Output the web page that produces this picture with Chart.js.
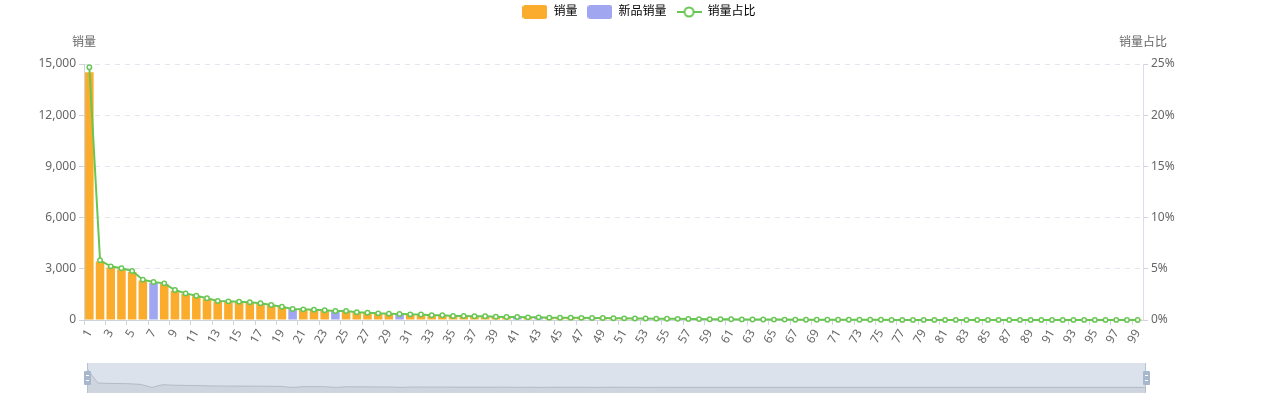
<!DOCTYPE html>
<html>
<head>
<meta charset="utf-8">
<script src="https://cdn.jsdelivr.net/npm/chart.js@4.4.1/dist/chart.umd.min.js"></script>
<style>
  html, body { margin: 0; padding: 0; background: #fff; }
  #wrap { position: relative; width: 1278px; height: 400px; overflow: hidden; }
  #main { position: absolute; left: 0; top: 0; }
  #zoom { position: absolute; left: 87px; top: 363px; width: 1059px; height: 30px; background: #dce2eb; }
  #zoomCanvas { position: absolute; left: 0; top: 0; }
  .edge { position: absolute; top: 0; width: 1px; height: 30px; background: #b7c2d2; }
  .handle { position: absolute; top: 8px; width: 7px; height: 14px; background: #a7b7cc; border-radius: 1px; }
  .handle i { position: absolute; left: 2px; width: 3px; height: 1px; background: #fff; }
</style>
</head>
<body>
<div id="wrap">
  <canvas id="main" width="1278" height="400"></canvas>
  <div id="zoom">
    <canvas id="zoomCanvas" width="1059" height="30"></canvas>
    <div class="edge" style="left:0"></div>
    <div class="edge" style="right:0"></div>
    <div class="handle" style="left:-3px"><i style="top:4px"></i><i style="top:9px"></i></div>
    <div class="handle" style="right:-4px"><i style="top:4px"></i><i style="top:9px"></i></div>
  </div>
</div>
<script>
// ---------- data ----------
const categories = ['1','2','3','4','5','6','7','8','9','10','11','12','13','14','15','16','17','18','19','20',
  '21','22','23','24','25','26','27','28','29','30','31','32','33','34','35','36','37','38','39','40',
  '41','42','43','44','45','46','47','48','49','50','51','52','53','54','55','56','57','58','59','60',
  '61','62','63','64','65','66','67','68','69','70','71','72','73','74','75','76','77','78','79','80',
  '81','82','83','84','85','86','87','88','89','90','91','92','93','94','95','96','97','98','99'];

// sales per rank (销量 / 新品销量 share the same ranking)
const sales = [14510,3428,3083,2968,2814,2316,2182,2107,1723,1530,1395,1245,1091,1072,1051,1016,958,861,764,632,614,592,
  557,517,517,441,420,382,362,345,325,320,270,270,230,230,210,210,190,172,170,152,150,134,132,
  128,122,118,110,102,95,88,80,74,68,62,57,52,47,43,39,35,31,28,25,22,20,18,16,14,12,11,10,
  9,9,8,8,8,7,7,7,6,6,6,5,5,5,5,4,4,4,4,3,3,3,3,2,2,2];

// ranks that are new products (drawn as 新品销量)
const newProductRanks = [7,20,24,30,41,43,48,53];

// 销量占比 (%)
const salesShare = [24.68,5.83,5.24,5.05,4.79,3.94,3.71,3.58,2.93,2.60,2.37,2.12,1.86,1.82,1.79,1.73,1.63,1.46,1.30,1.07,1.04,1.01,
  0.95,0.88,0.88,0.75,0.71,0.65,0.62,0.59,0.55,0.54,0.46,0.46,0.39,0.39,0.36,0.36,0.32,0.29,0.29,0.26,0.26,0.23,0.22,
  0.22,0.21,0.20,0.19,0.17,0.16,0.15,0.14,0.13,0.12,0.11,0.10,0.09,0.08,0.07,0.07,0.06,0.05,0.05,0.04,0.04,0.03,0.03,0.03,0.02,0.02,0.02,0.02,
  0.02,0.02,0.01,0.01,0.01,0.01,0.01,0.01,0.01,0.01,0.01,0.01,0.01,0.01,0.01,0.01,0.01,0.01,0.01,0.01,0.01,0.01,0.01,0.01,0.00,0.00];

const leftTickValues = [0, 3000, 6000, 9000, 12000, 15000];
const rightTickValues = [0, 5, 10, 15, 20, 25];
const seriesNames = ['销量', '新品销量', '销量占比'];
const axisNames = ['销量', '销量占比'];

// ---------- styles ----------
const ORANGE = '#FCAC2C';
const BLUE = '#A0A7F0';
const GREEN = '#68C652';
const FONT = "'Noto Sans', 'Noto Sans CJK SC', sans-serif";

const isNew = i => newProductRanks.includes(i + 1);
const regularSeries = sales.map((v, i) => isNew(i) ? null : v);
const newSeries = sales.map((v, i) => isNew(i) ? v : null);

function boxImg(color) {
  const c = document.createElement('canvas'); c.width = 25; c.height = 14;
  const g = c.getContext('2d'); g.fillStyle = color;
  g.beginPath(); g.roundRect(0, 0, 25, 14, 3); g.fill();
  return c;
}
function lineImg(color) {
  const c = document.createElement('canvas'); c.width = 25; c.height = 14;
  const g = c.getContext('2d');
  g.strokeStyle = color; g.lineWidth = 2;
  g.beginPath(); g.moveTo(0, 7); g.lineTo(25, 7); g.stroke();
  g.beginPath(); g.arc(12.5, 7, 4.5, 0, Math.PI * 2);
  g.fillStyle = '#fff'; g.fill(); g.stroke();
  return c;
}

const axisNamePlugin = {
  id: 'axisNamePlugin',
  afterDraw(chart) {
    const { ctx, chartArea } = chart;
    ctx.save();
    ctx.font = '12px ' + FONT;
    ctx.fillStyle = '#666';
    ctx.textAlign = 'center';
    ctx.textBaseline = 'middle';
    ctx.fillText(axisNames[0], chartArea.left, chartArea.top - 21);
    ctx.fillText(axisNames[1], chartArea.right, chartArea.top - 21);
    ctx.restore();
  }
};

Chart.defaults.font.family = FONT;
Chart.defaults.font.size = 12;

new Chart(document.getElementById('main'), {
  type: 'bar',
  data: {
    labels: categories,
    datasets: [
      { label: seriesNames[0], data: regularSeries, yAxisID: 'y', stack: 's', order: 1,
        backgroundColor: ORANGE, categoryPercentage: 0.8, barPercentage: 1 },
      { label: seriesNames[1], data: newSeries, yAxisID: 'y', stack: 's', order: 1,
        backgroundColor: BLUE, categoryPercentage: 0.8, barPercentage: 1 },
      { type: 'line', label: seriesNames[2], data: salesShare, yAxisID: 'y1', order: 0,
        borderColor: GREEN, borderWidth: 2, tension: 0,
        pointRadius: 2.2, pointBorderWidth: 1.5, pointBackgroundColor: '#fff', pointBorderColor: GREEN,
        clip: false }
    ]
  },
  options: {
    responsive: false,
    animation: false,
    layout: { padding: { top: -4, left: 0, right: 0, bottom: 0 }, autoPadding: false },
    plugins: {
      tooltip: { enabled: false },
      legend: {
        labels: {
          usePointStyle: true, pointStyleWidth: 25, boxHeight: 14, padding: 10,
          color: '#555', font: { size: 12, family: FONT },
          generateLabels: () => [
            { text: seriesNames[0], pointStyle: boxImg(ORANGE), fillStyle: ORANGE, strokeStyle: ORANGE, lineWidth: 0, datasetIndex: 0, hidden: false },
            { text: seriesNames[1], pointStyle: boxImg(BLUE), fillStyle: BLUE, strokeStyle: BLUE, lineWidth: 0, datasetIndex: 1, hidden: false },
            { text: seriesNames[2], pointStyle: lineImg(GREEN), fillStyle: '#fff', strokeStyle: GREEN, lineWidth: 0, datasetIndex: 2, hidden: false }
          ]
        }
      },
      title: { display: true, text: '', weight: 500, font: { size: 1, lineHeight: 1 }, padding: { top: 0, bottom: 35 } }
    },
    scales: {
      x: {
        stacked: true, offset: true,
        grid: { offset: true, drawOnChartArea: false, tickLength: 5,
                tickColor: ctx => (ctx.index % 2 === 0 ? '#cfd3dc' : 'rgba(0,0,0,0)') },
        border: { color: '#cfd3dc' },
        ticks: { autoSkip: false, minRotation: 60, maxRotation: 60, color: '#666', padding: 2,
                 font: { size: 12 },
                 callback: (v, i) => (i % 2 === 0 ? categories[i] : '') },
        afterFit: s => { s.height = 80; }
      },
      y: {
        position: 'left', stacked: true, min: 0, max: 15000,
        afterBuildTicks: s => { s.ticks = leftTickValues.map(v => ({ value: v })); },
        ticks: { color: '#666', padding: 3, callback: v => Number(v).toLocaleString('en-US') },
        grid: { color: '#E3E6EE', tickColor: '#cfd3dc', tickLength: 5 },
        border: { display: true, color: '#cfd3dc', dash: [5, 5] },
        afterFit: s => { s.width = 84; }
      },
      y1: {
        position: 'right', min: 0, max: 25,
        afterBuildTicks: s => { s.ticks = rightTickValues.map(v => ({ value: v })); },
        ticks: { color: '#666', padding: 3, callback: v => v + '%' },
        grid: { drawOnChartArea: false, tickColor: '#cfd3dc', tickLength: 5 },
        border: { display: true, color: '#dcdde8' },
        afterFit: s => { s.width = 135; }
      }
    }
  },
  plugins: [axisNamePlugin]
});

// data-zoom slider shadow (first series, as the slider shows it)
const shadow = regularSeries.map(v => (v == null ? 0 : v));
const shadowMax = Math.max(...shadow);
new Chart(document.getElementById('zoomCanvas'), {
  type: 'line',
  data: { labels: categories, datasets: [{
    data: shadow, fill: 'start', tension: 0, pointRadius: 0,
    backgroundColor: 'rgba(47,69,84,0.08)', borderColor: 'rgba(47,69,84,0.3)', borderWidth: 0.7
  }]},
  options: {
    responsive: false, animation: false,
    layout: { padding: 0, autoPadding: false },
    plugins: { legend: { display: false }, tooltip: { enabled: false } },
    scales: {
      x: { display: false, offset: false },
      y: { display: false, min: -0.3 * shadowMax, max: 1.3 * shadowMax }
    }
  }
});
</script>
</body>
</html>
